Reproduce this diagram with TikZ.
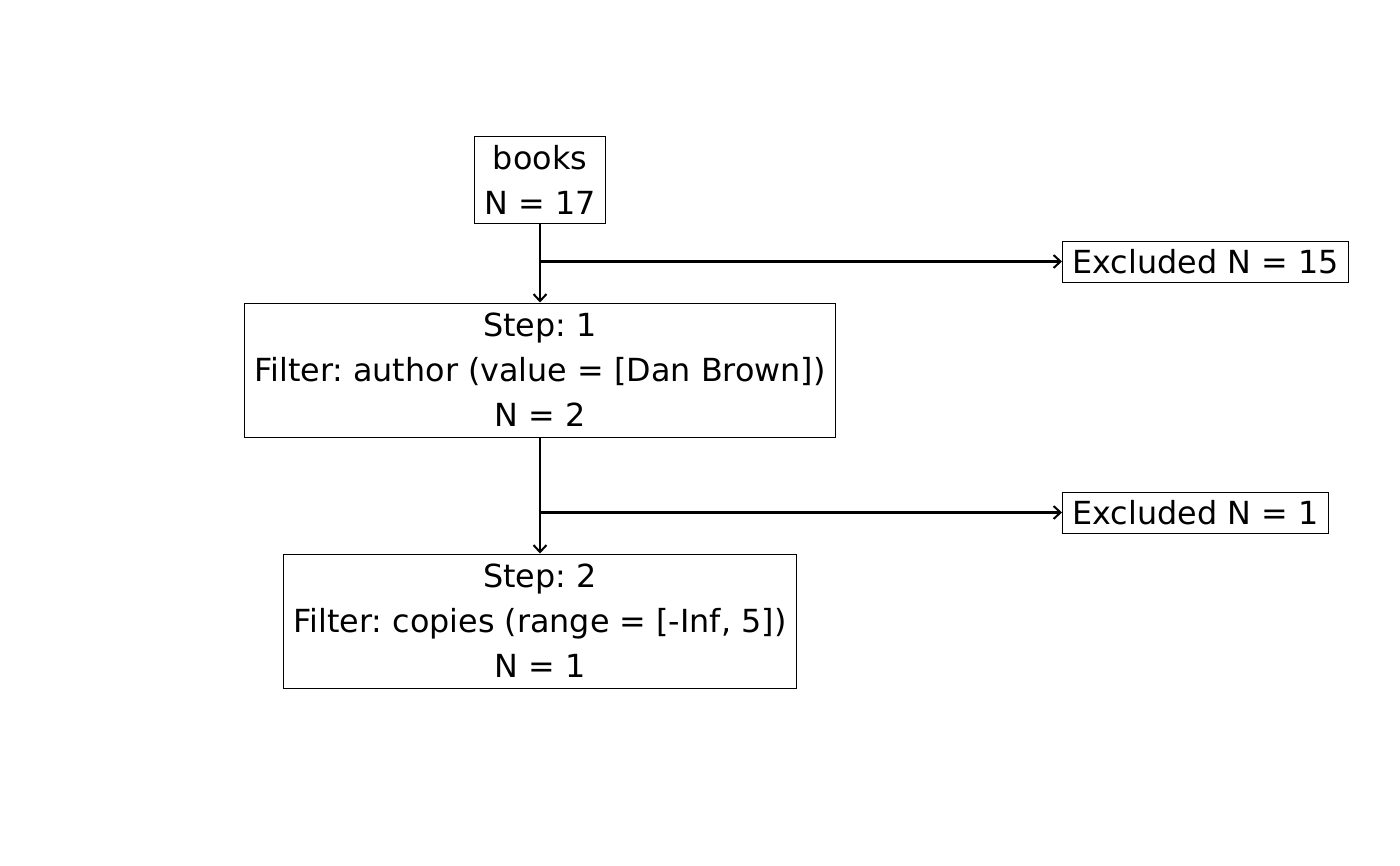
\documentclass[tikz,border=0pt]{standalone}
\usepackage{fontspec}
\setmainfont{DejaVu Sans}
\frenchspacing
\usetikzlibrary{arrows.meta}
\tikzset{block/.style = {draw, line width=1pt, rectangle, align=center, inner xsep=10pt, inner ysep=0pt, font=\fontsize{31.8}{45}\selectfont},
         excl/.style = {block, minimum height=41pt, anchor=west},
         flow/.style = {line width=2.2pt, -{Straight Barb[length=7pt,width=13pt,line width=2pt]}}}

\begin{document}
\begin{tikzpicture}[x=1pt,y=-1pt]
        \useasboundingbox (0,0) rectangle (1400,865);
        \node[block, minimum height=87pt](books)at(540,179.5){books\\N = 17};
        \node[block, minimum height=134pt](step1)at(540,370){Step: 1\\Filter: author (value = [Dan Brown])\\N = 2};
        \node[block, minimum height=134pt](step2)at(540,621){Step: 2\\Filter: copies (range = [-Inf, 5])\\N = 1};
        \node[excl](excl1)at(1062,261.5){Excluded N = 15};
        \node[excl](excl2)at(1062,512.5){Excluded N = 1};

        \draw[flow](books.south)--(step1.north);
        \draw[flow](step1.south)--(step2.north);
        \draw[flow](books.south|-excl1.west)--(excl1.west);
        \draw[flow](step1.south|-excl2.west)--(excl2.west);
    \end{tikzpicture}
\end{document}
